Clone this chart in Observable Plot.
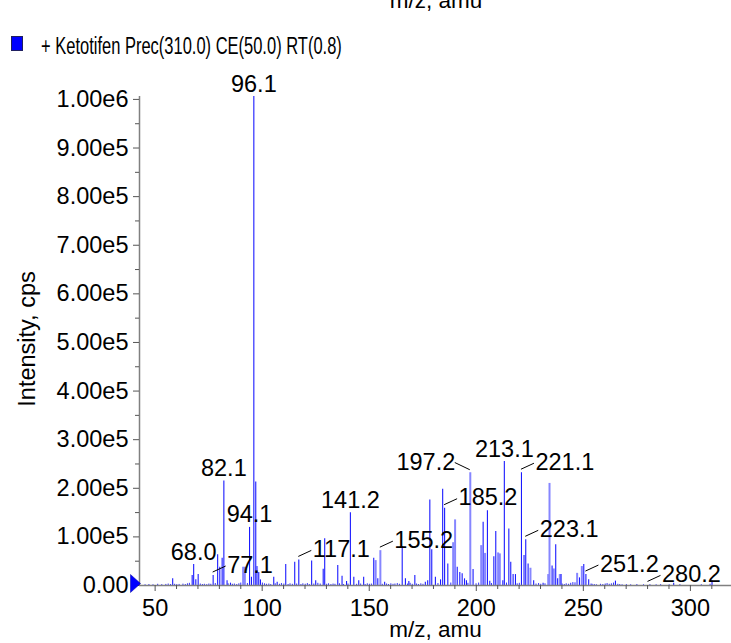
<!DOCTYPE html>
<html><head><meta charset="utf-8">
<script src="https://cdn.jsdelivr.net/npm/d3@7"></script>
<script src="https://cdn.jsdelivr.net/npm/@observablehq/plot@0.6"></script>
<style>
body{margin:0;background:#fff;}
#wrap{position:relative;width:731px;height:643px;overflow:hidden;font-family:Arial,"Liberation Sans",sans-serif;color:#000;}
#remnant{position:absolute;left:436px;top:-11px;font-size:22.5px;line-height:23px;transform:translateX(-50%);white-space:nowrap;}
#sw{position:absolute;left:11px;top:36px;width:10px;height:13px;background:#0000ff;border:1px solid #202060;}
#lt{position:absolute;left:41px;top:35px;font-size:23px;line-height:23px;white-space:nowrap;transform:scaleX(0.717);transform-origin:left center;}
</style></head><body>
<div id="wrap"><div id="chart"></div>
<div id="remnant">m/z, amu</div>
<div id="sw"></div><div id="lt">+ Ketotifen Prec(310.0) CE(50.0) RT(0.8)</div>
</div>
<script>
// ---- data (m/z, intensity in cps) ----
const darkPeaks = [
 [58.2,13700],[67.3,20500],[68.0,43000],[69.0,11600],[70.1,22500],[77.1,20500],[79.2,63500],[80.2,37600],
 [81.3,56000],[82.1,215000],[83.6,10000],[85.2,4800],[94.1,119500],[95.0,17000],[96.1,1006000],[97.0,213000],
 [98.4,27000],[99.2,11600],[105.4,17000],[107.0,6800],[111.0,43000],[115.2,47800],[117.1,52600],[123.1,50500],
 [125.0,10000],[128.5,33500],[129.2,96300],[135.3,41000],[137.3,19000],[139.4,8200],[141.2,149600],[142.8,17000],
 [145.1,10000],[147.4,17000],[152.1,56000],[154.0,13700],[157.2,6800],[165.4,80000],[166.9,13700],[168.5,8200],
 [171.3,20500],[176.2,6800],[177.3,10000],[178.3,176000],[179.2,73800],[180.9,17000],[183.3,11600],[184.3,198000],
 [185.2,159000],[186.7,44400],[191.1,37600],[192.3,27000],[193.4,24000],[194.5,13700],[195.4,10000],[198.5,33000],
 [203.2,130000],[205.2,154000],[206.3,9000],[208.2,59000],[209.1,111000],[212.4,10000],[213.1,255000],[215.2,116000],
 [216.1,48000],[217.2,22500],[218.3,22500],[221.1,232000],[222.3,61500],[223.1,94000],[224.2,44400],[226.8,10000],
 [231.2,4800],[235.4,40000],[237.1,84000],[238.0,13700],[239.6,22500],[248.2,15700],[250.2,43000],[251.2,22500],
 [252.5,11600],[265.0,9000],[292.2,4800],[310.1,10000]
];
const lightPeaks = [
 [91.1,37600],[91.9,37600],[97.6,39000],[153.0,51200],[155.2,71700],[189.2,88000],[190.1,135000],[197.2,232000],
 [202.3,82000],[204.1,66000],[210.2,67000],[211.0,65000],[225.3,35500],[233.6,22500],[234.2,210000],[236.2,34000],
 [239.0,22500],[247.1,25000],[249.3,39000]
];
const noisePeaks = [
 [45.3,1500],[47.1,2000],[49.0,1500],[51.2,2500],[53.1,1800],[55.0,2200],[56.1,3000],[57.2,2000],[59.1,2500],
 [60.1,1800],[61.2,2200],[63.0,2800],[64.1,2000],[65.1,3500],[66.0,4500],[71.1,3000],[72.1,2000],[73.0,2500],
 [74.1,1800],[75.1,3000],[76.0,2500],[78.1,4000],[84.1,3500],[86.1,2500],[87.0,3000],[88.1,2000],[89.1,3500],
 [90.0,5000],[93.1,4000],[100.1,5000],[101.1,3500],[102.0,2500],[103.1,3000],[104.0,2000],[106.1,3500],[108.1,2500],
 [109.0,4000],[110.1,3000],[112.1,2000],[113.0,3500],[114.1,2500],[116.1,3000],[118.1,2000],[119.0,3500],[120.1,2500],
 [121.1,4000],[122.0,2000],[124.1,3000],[126.0,4500],[127.1,3000],[130.1,2500],[131.0,3500],[132.1,2000],[133.1,3000],
 [134.0,2500],[136.1,3500],[138.0,2000],[140.1,3000],[144.1,2500],[146.0,3000],[148.1,2000],[149.1,3500],[150.1,2500],
 [151.0,3000],[156.1,2500],[158.1,3000],[159.0,2000],[160.1,3500],[161.1,2500],[162.0,3000],[163.1,4000],[164.1,2500],
 [167.9,3000],[169.1,4500],[170.1,2500],[172.1,3000],[173.0,2000],[174.1,3500],[175.1,2500],[182.1,4000],[188.1,5000],
 [196.1,4500],[199.9,3500],[201.1,5000],[207.1,4000],[214.1,5000],[219.1,3500],[220.1,4500],[227.9,3000],[229.1,4000],
 [230.1,2500],[232.1,3500],[240.1,3000],[241.1,2000],[242.0,3500],[243.1,2500],[244.1,4500],[245.1,6000],[246.1,5500],
 [253.6,3000],[254.1,2500],[255.1,2000],[256.1,1500],[258.0,2500],[259.1,2000],[260.2,3000],[261.1,4000],[262.1,2500],
 [263.1,3500],[264.1,5000],[266.1,2500],[267.0,2000],[268.1,1500],[270.1,1800],[272.1,1500],[275.0,2000],[278.1,1500],
 [281.1,1800],[284.0,1500],[286.1,1800],[290.1,1500],[295.1,1800],[305.1,1500],[309.2,2500]
];
const labelPeaks = [
 [96.1,1006000],[82.1,215000],[94.1,119500],[68.0,43000],[77.1,20500],[117.1,52600],[141.2,149600],[155.2,71700],
 [185.2,159000],[197.2,232000],[213.1,255000],[221.1,232000],[223.1,94000],[251.2,22500],[280.2,1200]
];
const xTicks = [50,100,150,200,250,300];
const xMinorTicks = [60,70,80,90,110,120,130,140,160,170,180,190,210,220,230,240,260,270,280,290,310];
const yTicks = [0,100000,200000,300000,400000,500000,600000,700000,800000,900000,1000000];
const yTickLabels = ["0.00","1.00e5","2.00e5","3.00e5","4.00e5","5.00e5","6.00e5","7.00e5","8.00e5","9.00e5","1.00e6"];
const yMinorTicks = [50000,150000,250000,350000,450000,550000,650000,750000,850000,950000];
const xDomain = [42.7, 319.2];
const yDomain = [0, 1006000];

// ---- styling ----
const labelSide = {"96.1":"top","82.1":"top","94.1":"top","68.0":"top","141.2":"top","213.1":"top",
 "77.1":"right","117.1":"right","155.2":"right","185.2":"right","221.1":"right","223.1":"right","251.2":"right","280.2":"right",
 "197.2":"left"};
const sideStyle = {
 top:{textAnchor:"middle", dx:0, dy:-5},
 right:{textAnchor:"start", dx:14, dy:-3},
 left:{textAnchor:"end", dx:-15, dy:-3}
};
const leader = {right:[0,-3,13,-9], left:[0,-2.5,-15,-9.7]};
const FS = 23.5, TFS = 23.5;
const axisColor = "#808080";

const labelMarks = Object.keys(sideStyle).map(side =>
  Plot.text(labelPeaks.filter(d => labelSide[d[0].toFixed(1)] === side), {
    x: d => d[0], y: d => d[1], text: d => d[0].toFixed(1),
    lineAnchor: "bottom", fontSize: FS, fill: "#000", ...sideStyle[side]
  }));

const triangle = {draw(ctx){ ctx.moveTo(-9,-11); ctx.lineTo(1,-2); ctx.lineTo(-9,7); ctx.closePath(); }};

const plot = Plot.plot({
  width: 731, height: 643,
  marginLeft: 139, marginRight: 0, marginTop: 96, marginBottom: 58,
  style: {fontFamily: "Arial, 'Liberation Sans', sans-serif", background: "transparent", overflow: "visible"},
  x: {domain: xDomain},
  y: {domain: yDomain},
  marks: [
    Plot.ruleX(noisePeaks, {x: d => d[0], y1: 0, y2: d => d[1], stroke: "#3030ff", strokeWidth: 1}),
    Plot.ruleX(lightPeaks, {x: d => d[0], y1: 0, y2: d => d[1], stroke: "#8686ff", strokeWidth: 2}),
    Plot.ruleX(darkPeaks, {x: d => d[0], y1: 0, y2: d => d[1], stroke: "#1a1aff", strokeWidth: 1.1}),
    Plot.ruleY([0], {stroke: axisColor, strokeWidth: 1.5}),
    Plot.ruleX([xDomain[0]], {y1: yDomain[0], y2: yDomain[1], stroke: axisColor, strokeWidth: 1.5}),
    Plot.axisY({ticks: yTicks, tickFormat: d => yTickLabels[yTicks.indexOf(d)], tickSize: 6, tickPadding: 5,
      fontSize: TFS, label: null, stroke: "#555"}),
    Plot.axisY({ticks: yMinorTicks, tickFormat: () => "", tickSize: 4, label: null, stroke: "#555"}),
    Plot.axisX({ticks: xTicks, tickSize: 6, tickPadding: 8, fontSize: TFS, label: null, stroke: "#555"}),
    Plot.axisX({ticks: xMinorTicks, tickFormat: () => "", tickSize: 4, label: null, stroke: "#555"}),
    Plot.text(["m/z, amu"], {frameAnchor: "bottom", textAnchor: "middle", lineAnchor: "bottom", dy: 51, fontSize: 22.5, fill: "#000"}),
    Plot.text(["Intensity, cps"], {frameAnchor: "left", textAnchor: "middle", rotate: -90, dx: -112, dy: -2, fontSize: 23.5, fill: "#000"}),
    Plot.dot([[xDomain[0], 0]], {x: d => d[0], y: d => d[1], symbol: triangle, fill: "#0000ff", stroke: "#0000a0", strokeWidth: 0.5}),
    ...labelMarks
  ]
});

// leader lines, positioned with the plot's own scales
const sx = plot.scale("x"), sy = plot.scale("y");
const g = d3.select(plot).append("g").attr("stroke", "#000").attr("stroke-width", 1);
labelPeaks.forEach(([mz, v]) => {
  const side = labelSide[mz.toFixed(1)];
  if (!leader[side]) return;
  const px = sx.apply(mz), py = sy.apply(v), L = leader[side];
  g.append("line").attr("x1", px + L[0]).attr("y1", py + L[1]).attr("x2", px + L[2]).attr("y2", py + L[3]);
});

document.getElementById("chart").appendChild(plot);
</script>
</body></html>
